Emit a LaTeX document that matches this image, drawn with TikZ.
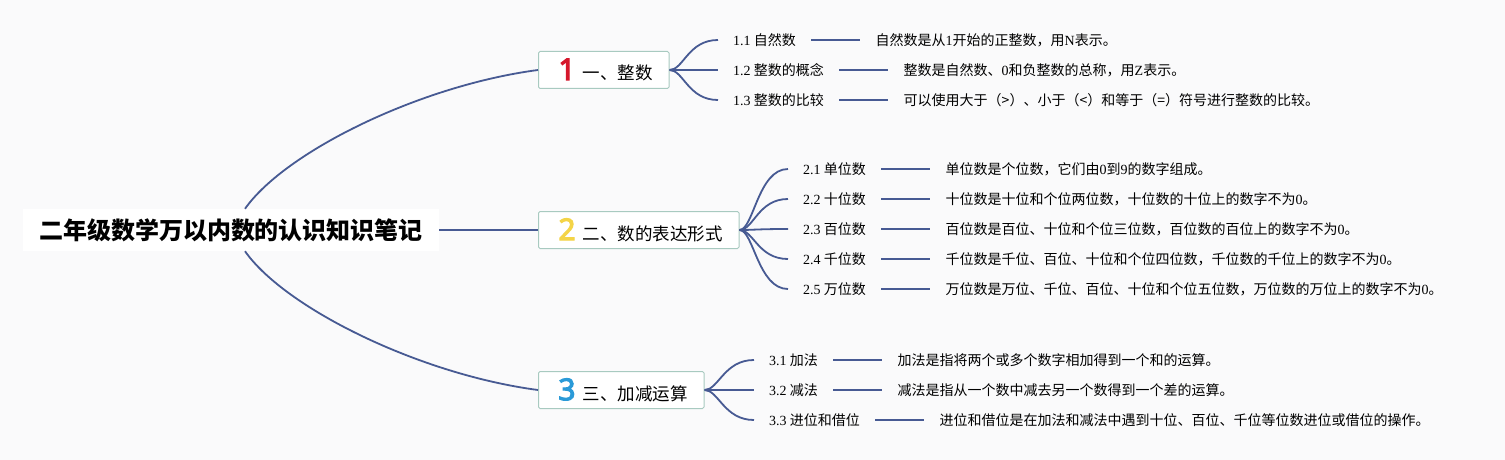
\documentclass[tikz,border=0pt]{standalone}
\usepackage{fontspec}
\setmainfont{Liberation Serif}
\newfontfamily\cjk{Noto Sans CJK SC}
\newfontfamily\numfont{Noto Sans}[FakeBold=3.5]
\usetikzlibrary{positioning}
\definecolor{bgc}{HTML}{FAFAFB}
\definecolor{linec}{HTML}{475A93}
\definecolor{boxc}{HTML}{A8CAC0}
\definecolor{numa}{HTML}{D5172B}
\definecolor{numb}{HTML}{F4D447}
\definecolor{numc}{HTML}{2A9AD8}
\newcommand\lat[1]{{\rmfamily #1}}
\newcommand\bnum[2]{\makebox[24pt][c]{\numfont\fontsize{30}{30}\selectfont\color{#1}#2}\hspace{3.5pt}}
\begin{document}
\begin{tikzpicture}[x=1pt,y=-1pt,
   topic/.style={fill=white, minimum height=42pt, inner xsep=16pt,
     font=\cjk\bfseries\fontsize{24}{28}\selectfont},
   branch/.style={draw=boxc, fill=white, line width=1pt, rounded corners=1.5pt,
     minimum height=37pt, inner xsep=16.5pt, inner ysep=0pt, anchor=west,
     font=\cjk\fontsize{17.5}{20}\selectfont},
   leaf/.style={inner xsep=15pt, inner ysep=2pt, anchor=west,
     font=\cjk\fontsize{14}{16}\selectfont},
   note/.style={leaf, inner xsep=15.5pt},
   link/.style={draw=linec, line width=1.8pt},
   node distance=49pt]

\fill[bgc] (0,0) rectangle (1505,460);

\node[topic] (root) at (231,230) {二年级数学万以内数的认识知识笔记};

\node[branch] (b1) at (538,70) {\bnum{numa}{1}一、整数};
\node[branch] (b2) at (538,230) {\bnum{numb}{2}二、数的表达形式};
\node[branch] (b3) at (538,390) {\bnum{numc}{3}三、加减运算};

\draw[link] ([xshift=14pt]root.north) .. controls +(40,-57) and +(-118,15.5) .. (b1.west);
\draw[link] (root.east) -- (b2.west);
\draw[link] ([xshift=14pt]root.south) .. controls +(40,57) and +(-118,-15.5) .. (b3.west);

% 1
\foreach \lbl/\txt [count=\i] in {
   {\lat{1.1} 自然数}/{自然数是从\lat{1}开始的正整数，用\lat{N}表示。},
   {\lat{1.2} 整数的概念}/{整数是自然数、\lat{0}和负整数的总称，用\lat{Z}表示。},
   {\lat{1.3} 整数的比较}/{可以使用大于（>）、小于（<）和等于（=）符号进行整数的比较。}} {
  \node[leaf] (a\i) at (718,10+30*\i) {\lbl};
  \node[note, right=of a\i] (na\i) {\txt};
  \draw[link] (b1.east) .. controls +(14,0) and +(-30,0) .. (a\i.west);
  \draw[link] (a\i) -- (na\i);
}

% 2
\foreach \lbl/\txt [count=\i] in {
   {\lat{2.1} 单位数}/{单位数是个位数，它们由\lat{0}到\lat{9}的数字组成。},
   {\lat{2.2} 十位数}/{十位数是十位和个位两位数，十位数的十位上的数字不为\lat{0}。},
   {\lat{2.3} 百位数}/{百位数是百位、十位和个位三位数，百位数的百位上的数字不为\lat{0}。},
   {\lat{2.4} 千位数}/{千位数是千位、百位、十位和个位四位数，千位数的千位上的数字不为\lat{0}。},
   {\lat{2.5} 万位数}/{万位数是万位、千位、百位、十位和个位五位数，万位数的万位上的数字不为\lat{0}。}} {
  \node[leaf] (c\i) at (788,139+30*\i) {\lbl};
  \node[note, right=of c\i] (nc\i) {\txt};
  \draw[link] (b2.east) .. controls +(14,0) and +(-30,0) .. (c\i.west);
  \draw[link] (c\i) -- (nc\i);
}

% 3
\foreach \lbl/\txt [count=\i] in {
   {\lat{3.1} 加法}/{加法是指将两个或多个数字相加得到一个和的运算。},
   {\lat{3.2} 减法}/{减法是指从一个数中减去另一个数得到一个差的运算。},
   {\lat{3.3} 进位和借位}/{进位和借位是在加法和减法中遇到十位、百位、千位等位数进位或借位的操作。}} {
  \node[leaf] (e\i) at (754,330+30*\i) {\lbl};
  \node[note, right=of e\i] (ne\i) {\txt};
  \draw[link] (b3.east) .. controls +(14,0) and +(-30,0) .. (e\i.west);
  \draw[link] (e\i) -- (ne\i);
}

\end{tikzpicture}
\end{document}
